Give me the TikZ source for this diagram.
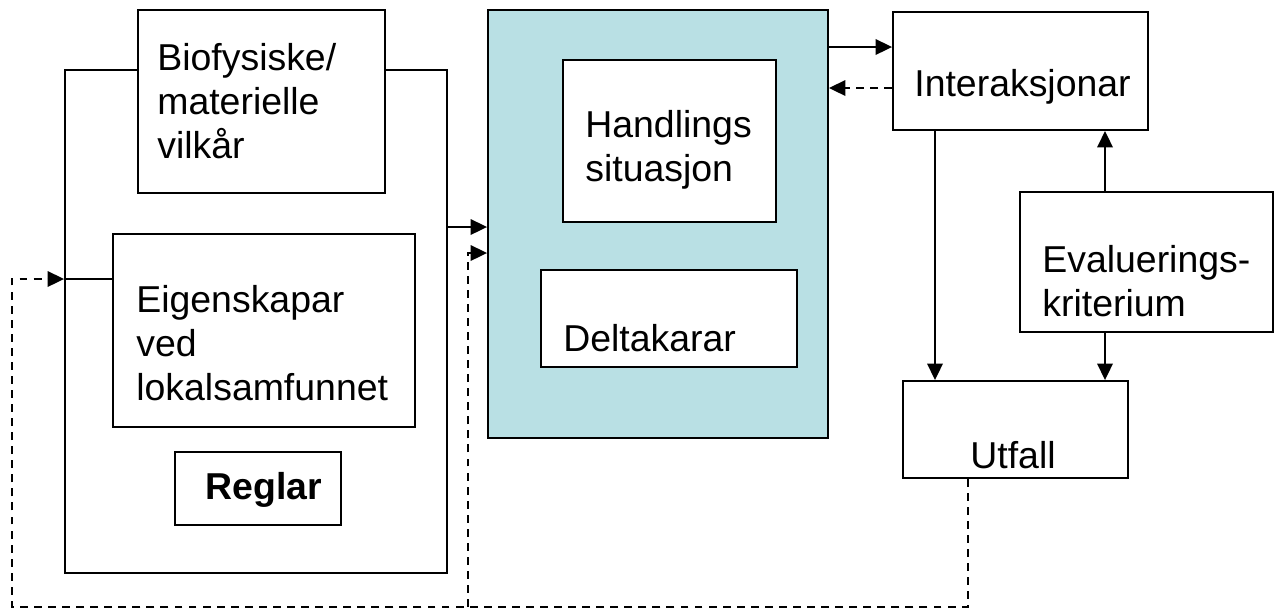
\documentclass[tikz,border=0pt]{standalone}
\usepackage{fontspec}
\setmainfont{Liberation Sans}
\usetikzlibrary{positioning, calc, arrows.meta}
\definecolor{situteal}{RGB}{185,224,228}

\begin{document}
\begin{tikzpicture}[x=0.02cm, y=-0.02cm,
            box/.style={draw, line width=1.1pt, fill=white, inner sep=0pt},
            txt/.style={font=\fontsize{21.3}{25}\selectfont, align=left, inner sep=0pt, anchor=west},
            arr/.style={line width=1.1pt, -{Triangle[length=0.33cm, width=0.31cm]}},
            dsh/.style={dash pattern=on 4.5pt off 3.5pt}]
            \useasboundingbox (0,0) rectangle (1280,610);
            \node[box, minimum width=7.64cm, minimum height=10.06cm] (outer) at (256,321.5) {};
            \node[box, minimum width=4.94cm, minimum height=3.66cm] (bio) at (261.5,101.5) {};
            \node[box, minimum width=6.04cm, minimum height=3.86cm] (eig) at (264,330.5) {};
            \node[box, minimum width=3.32cm, minimum height=1.46cm] (regl) at (258,488.5) {};
            \node[box, fill=situteal, minimum width=6.8cm, minimum height=8.56cm] (sit) at (658,224) {};
            \node[box, minimum width=4.26cm, minimum height=3.24cm] (hand) at (669.5,141) {};
            \node[box, minimum width=5.12cm, minimum height=1.94cm] (delt) at (669,318.5) {};
            \node[box, minimum width=5.1cm, minimum height=2.36cm] (inter) at (1020.5,71) {};
            \node[box, minimum width=5.06cm, minimum height=2.8cm] (eval) at (1146.5,262) {};
            \node[box, minimum width=4.5cm, minimum height=1.94cm] (utf) at (1015.5,429.5) {};
            \node[txt] (tbio) at (157,101) {Biofysiske/\\materielle\\vilkår};
            \node[txt] (teig) at (136,343) {Eigenskapar\\ved\\lokalsamfunnet};
            \node[txt, font=\fontsize{21.3}{25}\selectfont\bfseries] (tregl) at (205,490) {Reglar};
            \node[txt] (thand) at (585,150) {Handlings\\situasjon};
            \node[txt] (tdelt) at (563,338) {Deltakarar};
            \node[txt] (tinter) at (914,87) {Interaksjonar};
            \node[txt] (teval) at (1042,281) {Evaluerings-\\kriterium};
            \node[txt] (tutf) at (970,455) {Utfall};
            \coordinate (loopL) at (12,607);
            \coordinate (loopM) at (468,607);
            \coordinate (loopR) at (968,607);
            \draw[arr] (outer.east |- 0,227) -- (sit.west |- 0,227);
            \draw[arr, dsh] (loopM) -- (loopM |- 0,253) -- (sit.west |- 0,253);
            \draw[arr, dsh] (utf.south -| loopR) -- (loopR) -- (loopL) -- (loopL |- 0,279) -- (outer.west |- 0,279);
            \draw[line width=1.1pt] (outer.west |- 0,279) -- (eig.west |- 0,279);
            \draw[arr] (sit.east |- 0,47) -- (inter.west |- 0,47);
            \draw[arr, dsh] (inter.west |- 0,88) -- (sit.east |- 0,88);
            \draw[arr] (inter.south -| 935,0) -- (utf.north -| 935,0);
            \draw[arr] (eval.north -| 1105,0) -- (inter.south -| 1105,0);
            \draw[arr] (eval.south -| 1105,0) -- (utf.north -| 1105,0);
        \end{tikzpicture}
\end{document}
